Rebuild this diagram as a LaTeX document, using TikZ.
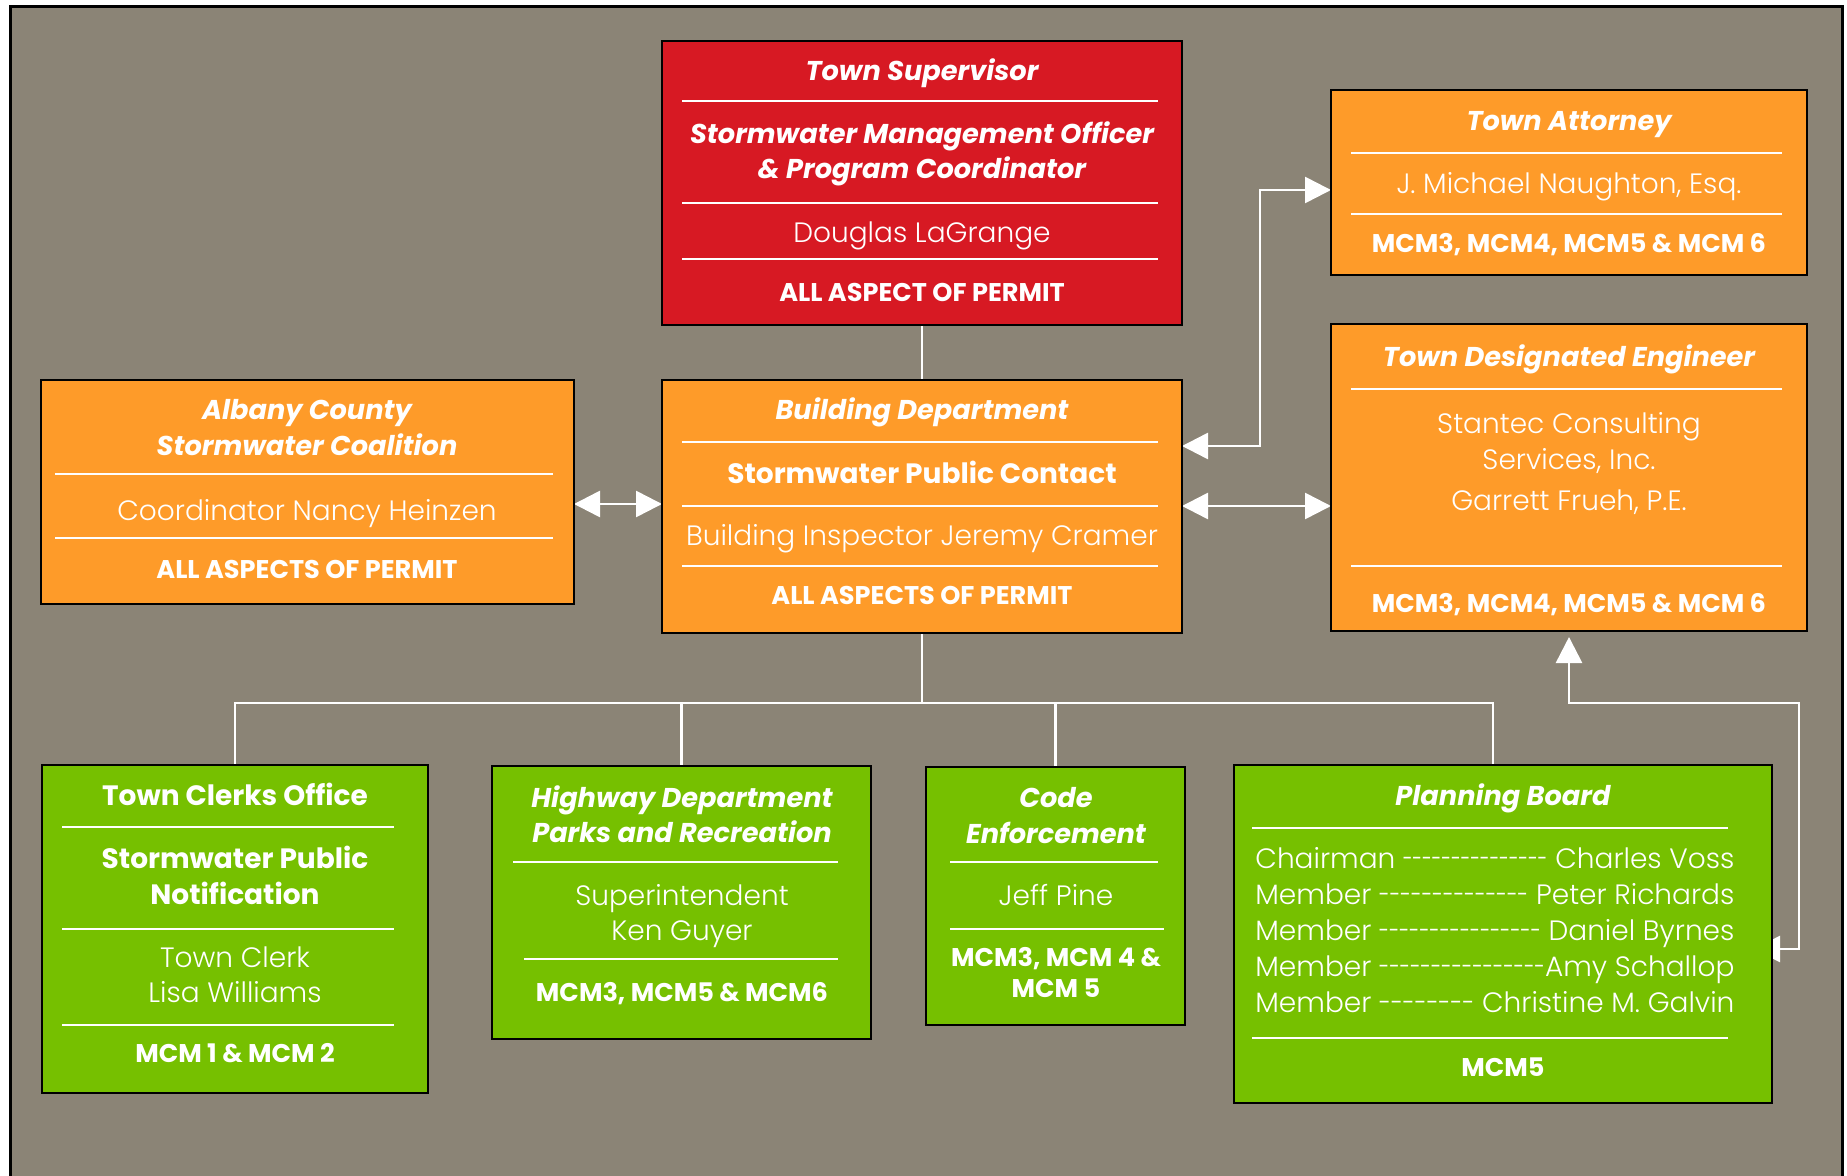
\documentclass[tikz,border=0pt]{standalone}
\usepackage{fontspec}
\setmainfont{Poppins}
\newfontfamily\lightfont{Poppins Light}[Ligatures=TeXOff]
\usetikzlibrary{arrows.meta}
\definecolor{bgc}{RGB}{139,132,118}
\definecolor{redc}{RGB}{215,25,35}
\definecolor{orgc}{RGB}{254,155,41}
\definecolor{grnc}{RGB}{118,192,0}
\pgfdeclarelayer{bglayer}
\pgfdeclarelayer{cnlayer}
\pgfsetlayers{bglayer,cnlayer,main}
\tikzset{
  obox/.style={draw=black, line width=1.2pt, anchor=north west, inner sep=0pt, outer sep=0pt},
  sepline/.style={draw=white, line width=1pt},
  conn/.style={draw=white, line width=1.3pt},
  twoarr/.style={conn, {Triangle[length=13pt,width=13pt]}-{Triangle[length=13pt,width=13pt]}},
  txtbase/.style={text=white, anchor=base, yshift=-5pt, inner sep=0pt},
  hbi/.style={txtbase, font=\fontsize{13.6}{16}\selectfont\bfseries\itshape},
  hb/.style={txtbase, font=\fontsize{14}{16}\selectfont\bfseries},
  lt/.style={txtbase, font=\fontsize{14}{16}\selectfont\lightfont},
  mcm/.style={txtbase, yshift=0.5pt, font=\fontsize{12.8}{15}\selectfont\bfseries},
  mem/.style={lt, anchor=base west},
}
\newcommand\mybox[6]{\node[obox, fill=#6, minimum width={(#4-#2)*0.5pt}, minimum height={(#5-#3)*0.5pt}] (#1) at (#2,#3) {};}
\newcommand\sepl[3]{\draw[sepline] (#1,#3) -- (#2,#3);}
\newsavebox\mlA
\newsavebox\mlB
\newsavebox\mlC
\newdimen\dashw
\newcommand\mline[3]{%
  \sbox\mlA{#1}\sbox\mlB{#3}\sbox\mlC{#2}%
  \dashw=\dimexpr 239.5pt-\wd\mlA-\wd\mlB\relax
  \usebox\mlA\resizebox{\dashw}{\ht\mlC}{\usebox\mlC}\usebox\mlB}
\begin{document}
\begin{tikzpicture}[x=0.5pt, y=-0.5pt]
\useasboundingbox (0,0) rectangle (1847,1176);
\begin{pgfonlayer}{bglayer}
\fill[white] (0,0) rectangle (1847,1176);
\fill[bgc] (10,7) rectangle (1842,1176);
\draw[black, line width=1.5pt] (10,1176) -- (10,7) -- (1842,7) -- (1842,1176);
\end{pgfonlayer}

% Town Supervisor
\mybox{ts}{662}{41}{1182}{325}{redc}
\node[hbi] (ts1) at (922,71) {Town Supervisor};
\sepl{682}{1158}{101}
\node[hbi] (ts2) at (922,134) {Stormwater Management Officer};
\node[hbi] (ts3) at (922,169) {\& Program Coordinator};
\sepl{682}{1158}{203}
\node[lt] (ts4) at (922,233) {Douglas LaGrange};
\sepl{682}{1158}{259}
\node[mcm] (ts5) at (922,293) {ALL ASPECT OF PERMIT};

% Town Attorney
\mybox{ta}{1331}{90}{1807}{275}{orgc}
\node[hbi] (ta1) at (1569,121) {Town Attorney};
\sepl{1351}{1782}{153}
\node[lt] (ta2) at (1569,184) {J. Michael Naughton, Esq.};
\sepl{1351}{1782}{214}
\node[mcm] (ta3) at (1569,244) {MCM3, MCM4, MCM5 \& MCM 6};

% Town Designated Engineer
\mybox{te}{1331}{324}{1807}{631}{orgc}
\node[hbi] (te1) at (1569,357) {Town Designated Engineer};
\sepl{1351}{1782}{389}
\node[lt] (te2) at (1569,424) {Stantec Consulting};
\node[lt] (te3) at (1569,459) {Services, Inc.};
\node[lt] (te4) at (1569,500) {Garrett Frueh, P.E.};
\sepl{1351}{1782}{566}
\node[mcm] (te5) at (1569,603) {MCM3, MCM4, MCM5 \& MCM 6};

% Albany County
\mybox{ac}{41}{380}{574}{604}{orgc}
\node[hbi] (ac1) at (307,410) {Albany County};
\node[hbi] (ac2) at (307,446) {Stormwater Coalition};
\sepl{55}{553}{474}
\node[lt] (ac3) at (307,510) {Coordinator Nancy Heinzen};
\sepl{55}{553}{538}
\node[mcm] (ac4) at (307,569) {ALL ASPECTS OF PERMIT};

% Building Department
\mybox{bd}{662}{380}{1182}{633}{orgc}
\node[hbi] (bd1) at (922,410) {Building Department};
\sepl{682}{1158}{442}
\node[hb] (bd2) at (922,473) {Stormwater Public Contact};
\sepl{682}{1158}{506}
\node[lt] (bd3) at (922,535) {Building Inspector Jeremy Cramer};
\sepl{682}{1158}{566}
\node[mcm] (bd4) at (922,595) {ALL ASPECTS OF PERMIT};

% Town Clerks Office
\mybox{tc}{42}{765}{428}{1093}{grnc}
\node[hb] (tc1) at (235,795) {Town Clerks Office};
\sepl{62}{394}{827}
\node[hb] (tc2) at (235,858) {Stormwater Public};
\node[hb] (tc3) at (235,894) {Notification};
\sepl{62}{394}{929}
\node[lt] (tc4) at (235,957) {Town Clerk};
\node[lt] (tc5) at (235,992) {Lisa Williams};
\sepl{62}{394}{1025}
\node[mcm] (tc6) at (235,1053) {MCM 1 \& MCM 2};

% Highway Department
\mybox{hd}{492}{766}{871}{1039}{grnc}
\node[hbi] (hd1) at (682,797) {Highway Department};
\node[hbi] (hd2) at (682,832) {Parks and Recreation};
\sepl{513}{838}{862}
\node[lt] (hd3) at (682,895) {Superintendent};
\node[lt] (hd4) at (682,930) {Ken Guyer};
\sepl{524}{838}{959}
\node[mcm] (hd5) at (682,992) {MCM3, MCM5 \& MCM6};

% Code Enforcement
\mybox{ce}{926}{767}{1185}{1025}{grnc}
\node[hbi] (ce1) at (1056,797) {Code};
\node[hbi] (ce2) at (1056,833) {Enforcement};
\sepl{950}{1158}{862}
\node[lt] (ce3) at (1056,895) {Jeff Pine};
\sepl{950}{1164}{929}
\node[mcm] (ce4) at (1056,957) {MCM3, MCM 4 \&};
\node[mcm] (ce5) at (1056,988) {MCM 5};

% Planning Board
\mybox{pb}{1234}{765}{1772}{1103}{grnc}
\node[hbi] (pb1) at (1503,795) {Planning Board};
\sepl{1252}{1728}{828}
\node[mem] (pb2) at (1255,858) {\mline{Chairman }{---------------}{ Charles Voss}};
\node[mem] (pb3) at (1255,894) {\mline{Member }{--------------}{ Peter Richards}};
\node[mem] (pb4) at (1255,930) {\mline{Member }{----------------}{ Daniel Byrnes}};
\node[mem] (pb5) at (1255,966) {\mline{Member }{----------------}{Amy Schallop}};
\node[mem] (pb6) at (1255,1002) {\mline{Member }{--------}{ Christine M. Galvin}};
\sepl{1252}{1728}{1038}
\node[mcm] (pb7) at (1503,1067) {MCM5};

% connectors
\coordinate (bus) at (bd.south |- 0,703);
\coordinate (c1) at (1260,446);
\coordinate (c2) at (1260,190);
\coordinate (pbR) at (1799,949);
\coordinate (pbC) at (1799,703);
\begin{pgfonlayer}{cnlayer}
\draw[conn] (ts.south) -- (bd.north);
\draw[conn] (bd.south) -- (bus);
\draw[conn] (bus) -| (tc.north);
\draw[conn] (bus) -| (hd.north);
\draw[conn] (bus) -| (ce.north);
\draw[conn] (bus) -| ([xshift=-5pt]pb.north);
\draw[twoarr] (ac.east |- 0,504) -- (bd.west |- 0,504);
\draw[twoarr] (bd.east |- c1) -- (c1) -- (c2) -- (ta.west |- c2);
\draw[twoarr] (bd.east |- 0,506) -- (te.west |- 0,506);
\draw[twoarr] ([xshift=-9pt]pb.east |- pbR) -- (pbR) -- (pbC) -| ([yshift=-3pt]te.south);
\end{pgfonlayer}
\end{tikzpicture}
\end{document}
